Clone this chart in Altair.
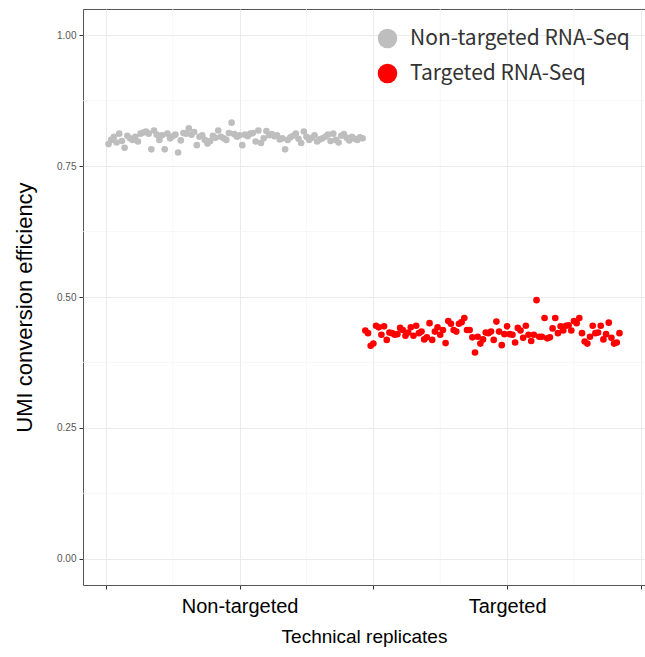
import altair as alt
import pandas as pd

grey_values = [
    0.792, 0.800, 0.806, 0.795, 0.812, 0.798, 0.785, 0.808, 0.803, 0.800,
    0.806, 0.797, 0.812, 0.814, 0.816, 0.812, 0.782, 0.818, 0.810, 0.800,
    0.809, 0.782, 0.812, 0.803, 0.807, 0.810, 0.776, 0.799, 0.813, 0.812,
    0.822, 0.810, 0.815, 0.790, 0.806, 0.809, 0.800, 0.793, 0.798, 0.808,
    0.804, 0.818, 0.806, 0.803, 0.800, 0.813, 0.833, 0.811, 0.806, 0.809,
    0.790, 0.810, 0.807, 0.812, 0.813, 0.797, 0.818, 0.794, 0.803, 0.817,
    0.809, 0.811, 0.807, 0.809, 0.801, 0.803, 0.782, 0.800, 0.805, 0.808,
    0.812, 0.802, 0.794, 0.816, 0.806, 0.800, 0.804, 0.809, 0.797, 0.801,
    0.803, 0.806, 0.810, 0.798, 0.812, 0.800, 0.795, 0.808, 0.811, 0.804,
    0.799, 0.806, 0.802, 0.800, 0.805, 0.803,
]
red_values = [
    0.436, 0.431, 0.407, 0.411, 0.445, 0.442, 0.428, 0.444, 0.418, 0.432,
    0.431, 0.428, 0.429, 0.441, 0.437, 0.426, 0.432, 0.442, 0.426, 0.445,
    0.431, 0.434, 0.419, 0.423, 0.450, 0.418, 0.434, 0.442, 0.428, 0.437,
    0.412, 0.454, 0.449, 0.437, 0.434, 0.449, 0.452, 0.460, 0.437, 0.437,
    0.423, 0.394, 0.424, 0.411, 0.419, 0.432, 0.431, 0.434, 0.418, 0.453,
    0.434, 0.408, 0.429, 0.444, 0.429, 0.428, 0.413, 0.441, 0.436, 0.422,
    0.445, 0.428, 0.416, 0.428, 0.494, 0.424, 0.424, 0.460, 0.421, 0.423,
    0.440, 0.460, 0.431, 0.444, 0.436, 0.445, 0.446, 0.436, 0.454, 0.450,
    0.460, 0.431, 0.415, 0.411, 0.424, 0.445, 0.431, 0.432, 0.445, 0.419,
    0.429, 0.451, 0.422, 0.411, 0.413, 0.431,
]
group_labels = ["Non-targeted RNA-Seq", "Targeted RNA-Seq"]
group_colors = ["#BEBEBE", "#FF0000"]
x_tick_values = [0, 50, 100, 150, 200]
x_tick_labels = ["", "Non-targeted", "", "Targeted", ""]
y_tick_values = [0.0, 0.25, 0.5, 0.75, 1.0]
x_minor = [25, 75, 125, 175]
y_minor = [0.125, 0.375, 0.625, 0.875]

n_g = len(grey_values)
n_r = len(red_values)
df = pd.DataFrame({
    "replicate": list(range(1, n_g + n_r + 1)),
    "efficiency": grey_values + red_values,
    "group": [group_labels[0]] * n_g + [group_labels[1]] * n_r,
})

label_expr = "''"
for v, lab in zip(x_tick_values, x_tick_labels):
    if lab:
        label_expr = f"datum.value == {v} ? '{lab}' : ({label_expr})"

xscale = alt.Scale(domain=[-8.55, 201.55], nice=False, zero=False)
yscale = alt.Scale(domain=[-0.05, 1.05], nice=False, zero=False)

x_axis = alt.Axis(
    values=x_tick_values, labelExpr=label_expr, title="Technical replicates",
    grid=True, gridColor="#EBEBEB", gridWidth=1, domain=False,
    tickColor="#333333", tickSize=4, tickWidth=1,
    labelFontSize=20, labelColor="#000000", labelFont="Liberation Sans",
    labelPadding=7, titleFontSize=19, titleColor="#000000",
    titleFont="Liberation Sans", titleFontWeight="normal", titlePadding=11,
)
y_axis = alt.Axis(
    values=y_tick_values, format=".2f", title="UMI conversion efficiency",
    grid=True, gridColor="#EBEBEB", gridWidth=1, domain=False,
    tickColor="#333333", tickSize=4, tickWidth=1,
    labelFontSize=10, labelColor="#555555", labelFont="Liberation Sans",
    labelPadding=3, titleFontSize=22, titleColor="#000000",
    titleFont="Liberation Sans", titleFontWeight="normal", titlePadding=20,
    titleY=298,
)

minor_x = alt.Chart(pd.DataFrame({"mx": x_minor})).mark_rule(
    color="#F4F4F4", strokeWidth=0.7
).encode(x=alt.X("mx:Q", scale=xscale, axis=x_axis))

minor_y = alt.Chart(pd.DataFrame({"my": y_minor})).mark_rule(
    color="#F4F4F4", strokeWidth=0.7
).encode(y=alt.Y("my:Q", scale=yscale, axis=y_axis))

points = alt.Chart(df).mark_circle(size=44, opacity=1).encode(
    x=alt.X("replicate:Q", scale=xscale, axis=x_axis),
    y=alt.Y("efficiency:Q", scale=yscale, axis=y_axis),
    color=alt.Color(
        "group:N",
        scale=alt.Scale(domain=group_labels, range=group_colors),
        legend=alt.Legend(
            title=None, orient="none", legendX=294, legendY=19,
            symbolType="circle", symbolSize=380, symbolOpacity=1, symbolStrokeWidth=0,
            labelFontSize=21, labelFont="Noto Sans CJK JP", labelColor="#333333",
            labelOffset=12, rowPadding=13, padding=0, labelLimit=400,
        ),
    ),
)

chart = alt.layer(minor_x, minor_y, points).properties(
    width=562, height=576,
    padding={"left": 83, "top": 9, "right": 0, "bottom": 72},
    autosize=alt.AutoSizeParams(type="none"),
    background="white",
).configure_view(stroke="#555555", strokeWidth=1)

chart.save("out.html", embed_options={"renderer": "svg", "actions": False})
